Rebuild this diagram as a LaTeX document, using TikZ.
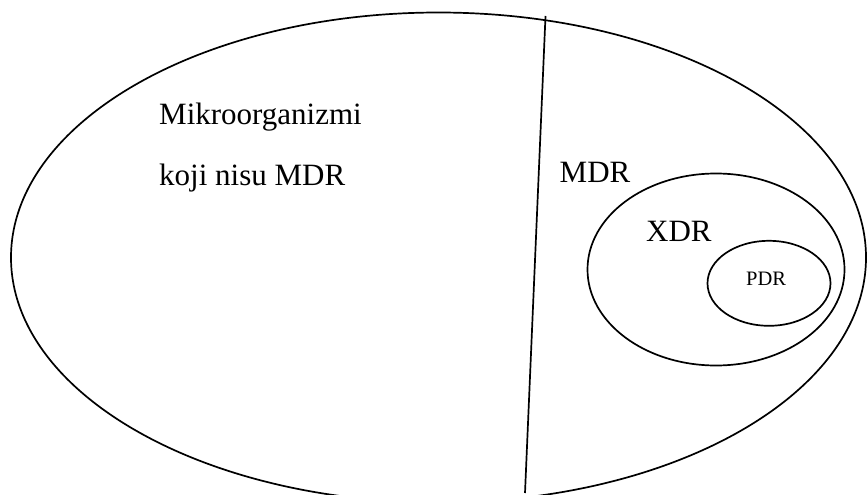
\documentclass[tikz,border=0pt]{standalone}
\usepackage{fontspec}
\setmainfont{Liberation Serif}
\usetikzlibrary{shapes.geometric}
\begin{document}
\begin{tikzpicture}[x=1pt,y=-1pt,
  set/.style={draw, ellipse, line width=1.7pt, inner sep=0pt, outer sep=0pt},
  divider/.style={line width=1.7pt},
  lbl/.style={anchor=base west, inner sep=0pt, font=\fontsize{31}{37}\selectfont},
  smalllbl/.style={anchor=base west, inner sep=0pt, font=\fontsize{20.5}{24}\selectfont}]
\useasboundingbox (0,0) rectangle (867,495);
\clip (0,0) rectangle (867,495);
\node[set, minimum width=855pt, minimum height=490pt] (all) at (438.5,257.5) {};
\coordinate (top) at (545.5,16);
\coordinate (bot) at (525,493);
\draw[divider] (top) -- (bot);
\node[set, minimum width=257pt, minimum height=192pt] (xdr) at (716,269.5) {};
\node[set, minimum width=123pt, minimum height=85pt] (pdr) at (769,283.3) {};
\node[lbl] (t1) at (159,124.3) {Mikroorganizmi};
\node[lbl] (t2) at (159,185) {koji nisu MDR};
\node[lbl] (mdr) at (559.5,182.7) {MDR};
\node[lbl] (xdrl) at (646,241.7) {XDR};
\node[smalllbl] (pdrl) at (746,285) {PDR};
\end{tikzpicture}
\end{document}
